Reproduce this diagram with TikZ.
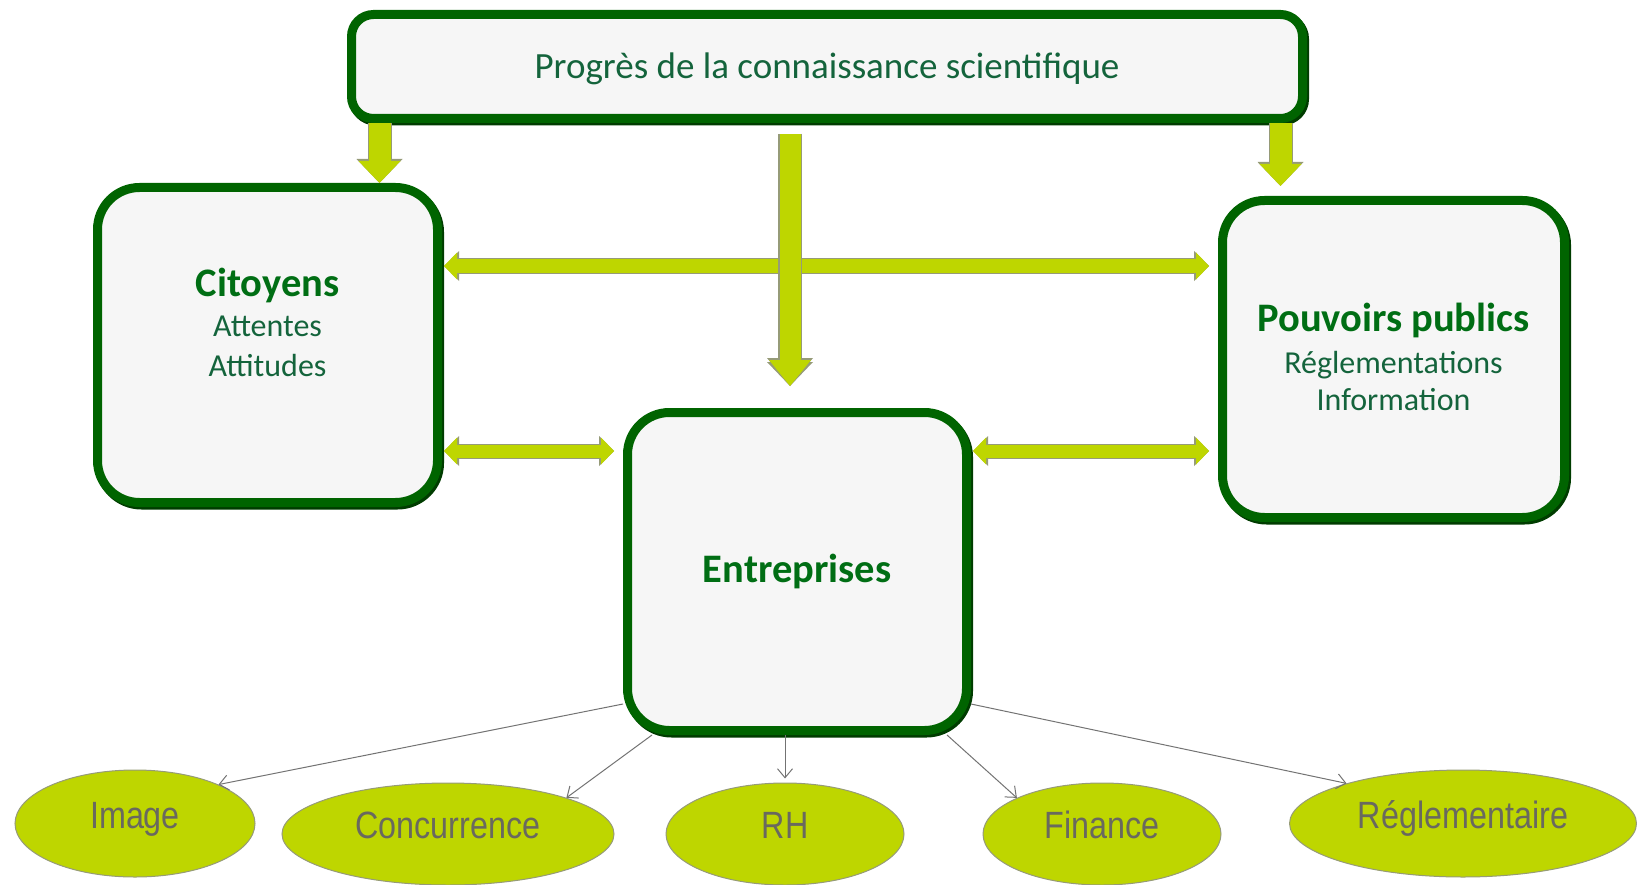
\documentclass[tikz,border=0pt]{standalone}
\usepackage{fontspec}
\setmainfont{Carlito}
\newfontfamily\ovalfont[FakeStretch=0.85]{Liberation Sans}
\usetikzlibrary{arrows.meta,calc,shapes.geometric}
\definecolor{BoxClr}{RGB}{0,100,0}
\definecolor{BoxDarkClr}{RGB}{0,60,0}
\definecolor{FillClr}{RGB}{246,246,246}
\definecolor{ArrowClr}{RGB}{190,214,0}
\definecolor{EdgeClr}{RGB}{150,155,120}
\definecolor{TitleClr}{RGB}{0,110,20}
\definecolor{SubClr}{RGB}{20,100,60}
\definecolor{OvalTxtClr}{RGB}{105,105,95}
\newcommand{\titlefont}{\fontsize{40.5}{48}\bfseries\selectfont\color{TitleClr}}

\begin{document}
\begin{tikzpicture}[x=1pt,y=-1pt]
\tikzset{
  box/.style={draw=BoxClr,line width=9pt,fill=FillClr,rounded corners=42pt,inner sep=0pt,
    preaction={draw=BoxDarkClr,transform canvas={shift={(2pt,-2.5pt)}}}},
  boxtext/.style={align=center,text=SubClr,font=\fontsize{32}{40}\selectfont},
  oval/.style={ellipse,draw=EdgeClr,line width=1pt,fill=ArrowClr,inner sep=0pt,
    text=OvalTxtClr,font=\ovalfont\fontsize{38}{44}\selectfont,text height=27pt,text depth=18pt},
  fat/.style={draw=ArrowClr,line width=22pt,-{Triangle[width=42pt,length=22pt,line width=0pt]},
    preaction={draw=EdgeClr,line width=24pt,-{Triangle[width=46pt,length=24pt,line width=0pt]}}},
  fatc/.style={fat,line width=21pt,-{Triangle[width=42pt,length=26pt,line width=0pt]},
    preaction={draw=EdgeClr,line width=23pt,-{Triangle[width=46pt,length=28pt,line width=0pt]}}},
  dbl/.style={draw=ArrowClr,line width=13pt,
    {Triangle[width=27pt,length=13pt,line width=0pt]}-{Triangle[width=27pt,length=13pt,line width=0pt]},
    preaction={draw=EdgeClr,line width=15pt,
      {Triangle[width=30pt,length=15pt,line width=0pt]}-{Triangle[width=30pt,length=15pt,line width=0pt]}}},
  thinarr/.style={draw=gray!90!black,line width=1pt,-{Straight Barb[length=9pt,width=15pt]}}
}
\useasboundingbox (0,0) rectangle (1637,885);

\node[box,rounded corners=22pt,minimum width=951pt,minimum height=104pt,text=SubClr,
  font=\fontsize{37}{44}\selectfont,text height=32pt,text depth=8pt] (prog) at (827,66.5) {Progrès de la connaissance scientifique};

\node[box,minimum width=340pt,minimum height=315pt] (cit) at (267.5,345) {};
\node[box,minimum width=342pt,minimum height=317pt] (pouv) at (1393.5,359) {};
\node[box,minimum width=339pt,minimum height=318pt,text=TitleClr,
  font=\fontsize{40.5}{48}\bfseries\selectfont] (ent) at (797,571.5) {Entreprises};

\node[boxtext] (cittxt) at ([yshift=23pt]cit.center) {{\titlefont Citoyens}\\Attentes\\Attitudes};
\node[boxtext,font=\fontsize{32}{37}\selectfont] (pouvtxt) at ([yshift=2pt]pouv.center)
  {{\titlefont Pouvoirs publics}\\[5pt]Réglementations\\Information};

\node[oval,minimum width=240pt,minimum height=107pt] (img) at (135,823.5) {Image};
\node[oval,minimum width=332pt,minimum height=102pt] (conc) at (448,834) {Concurrence};
\node[oval,minimum width=238pt,minimum height=102pt] (rh) at (785,834) {RH};
\node[oval,minimum width=238pt,minimum height=102pt] (fin) at (1102,834) {Finance};
\node[oval,minimum width=347pt,minimum height=107pt] (reg) at (1463,823.5) {Réglementaire};

\coordinate (c1) at ([xshift=112pt]cit.north);
\coordinate (c2) at ([xshift=-113pt]pouv.north);
\coordinate (c3) at ([xshift=-7pt]ent.north);
\coordinate (h1) at ([yshift=79pt]cit.east);
\coordinate (h2) at ([yshift=-106pt]cit.east);

\draw[fat] (c1 |- prog.south) -- (c1);
\draw[fat,shorten >=10pt] (c2 |- prog.south) -- (c2);

\draw[dbl,shorten <=2pt,shorten >=9pt] (h1) -- (h1 -| pouv.west);
\draw[dbl,shorten <=2pt,shorten >=9pt] (h2) -- (h2 -| ent.west);
\draw[dbl,shorten <=2pt,shorten >=9pt] (h2 -| ent.east) -- (h2 -| pouv.west);

\draw[fatc,shorten <=11pt,shorten >=22pt] (c3 |- prog.south) -- (c3);

\draw[thinarr] ([yshift=31pt]ent.south west) -- (img.25);
\draw[thinarr] ([xshift=29pt]ent.south west) -- (conc.17);
\draw[thinarr,shorten >=4pt] (ent.south -| rh.north) -- (rh.north);
\draw[thinarr] ([xshift=-24pt]ent.south east) -- (fin.157);
\draw[thinarr] ([yshift=31pt]ent.south east) -- (reg.161);

\end{tikzpicture}
\end{document}
